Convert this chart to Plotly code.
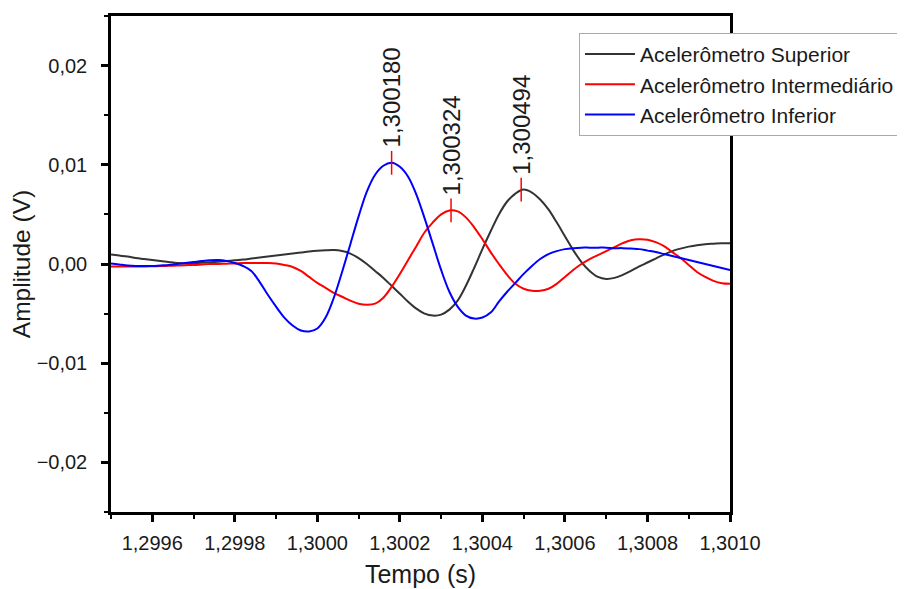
import plotly.graph_objects as go

# ---------------- data (sampled every 0.00002 s, values in units of 0.1 mV) ----------------
t_start = 1.2995
t_step = 0.00002
n_pts = 76
tempo = [round(t_start + k * t_step, 6) for k in range(n_pts)]

v_sup = [9.5, 8.5, 7.5, 6, 5, 4, 3, 2, 1, 0.5,
         0.8, 1.2, 1.7, 2.3, 3, 3.8, 4.5, 5.5, 6.5, 7.5,
         8.5, 9.5, 10.5, 11.5, 12.5, 13.3, 13.8, 14, 13, 10.5,
         6, 0, -7, -14, -22, -30, -38, -45, -50, -52,
         -51, -46, -37, -22, -4, 15, 33, 50, 63, 71,
         75, 72, 65, 55, 42, 28, 14, 2, -7, -13,
         -15, -14, -11, -7, -2.5, 1.5, 5.5, 9.5, 13, 15.5,
         17.5, 19, 20, 20.5, 21, 21]

v_int = [-2.5, -2.5, -2.5, -2.5, -2.5, -2.3, -2, -1.8, -1.5, -1.2,
         -1, -0.5, 0, 0, 0.3, 0.5, 1, 1, 1, 1,
         0.5, -1, -3, -7, -13, -19, -24, -29, -33, -37,
         -40, -41, -40, -34, -23, -10, 4, 18, 32, 42,
         50, 54, 53, 47, 37, 25, 12, 0, -11, -20,
         -25, -27, -27, -25, -20, -13, -6, 0, 5, 9,
         13, 17, 21, 24, 25, 24.5, 22, 18, 12, 6,
         -1, -8, -13, -17, -19.5, -20]

v_inf = [0.5, -0.5, -1.5, -2, -2, -2, -1.5, -1, 0, 1,
         2, 3, 3.8, 4, 3, 1, -2, -7, -18, -31,
         -43, -54, -62, -67, -68, -65, -54, -34, -8, 20,
         48, 73, 90, 99, 102, 98, 88, 70, 46, 20,
         -6, -28, -43, -52, -55, -54, -49, -38, -28, -19,
         -10, -2, 5, 10, 13, 15, 16, 16.5, 16.5, 16.5,
         16.5, 16, 16, 15.5, 15, 13.5, 12, 10, 8, 6,
         4, 2, 0, -2, -4, -6]

scale = 1e-4  # convert to V
series_values = [[v * scale for v in s] for s in (v_sup, v_int, v_inf)]
series_names = ["Acelerômetro Superior", "Acelerômetro Intermediário", "Acelerômetro Inferior"]
series_colors = ["#333333", "#FF0000", "#0000FF"]

peak_t = [1.300180, 1.300324, 1.300494]
peak_v = [0.0102, 0.0054, 0.0075]
peak_labels = ["1,300180", "1,300324", "1,300494"]

x_ticks = [1.2996, 1.2998, 1.3000, 1.3002, 1.3004, 1.3006, 1.3008, 1.3010]
y_ticks = [-0.02, -0.01, 0.0, 0.01, 0.02]

# ---------------- figure ----------------
FONT = "Liberation Sans, Arial, sans-serif"
TXT = "#1a1a1a"
fig = go.Figure()
for vv, name, col in zip(series_values, series_names, series_colors):
    fig.add_trace(go.Scatter(x=tempo, y=vv, mode="lines", name=name,
                             line=dict(color=col, width=2, shape="spline", smoothing=1.0)))

fig.add_trace(go.Scatter(x=peak_t, y=peak_v, mode="markers", showlegend=False,
                         marker=dict(symbol="line-ns", size=17,
                                     line=dict(color="#FF0000", width=1.5))))

for pt, pv, lab in zip(peak_t, peak_v, peak_labels):
    fig.add_annotation(x=pt, y=pv, text=lab, textangle=-90, showarrow=False,
                       xanchor="center", yanchor="bottom", yshift=13,
                       font=dict(family=FONT, size=24, color=TXT))

fig.update_layout(
    width=897, height=581,
    margin=dict(l=103, r=174, t=5, b=77),
    paper_bgcolor="white", plot_bgcolor="white",
    separators=",.",
    font=dict(family=FONT, size=20, color=TXT),
    showlegend=True,
    legend=dict(x=0.756, y=0.966, xanchor="left", yanchor="top",
                bgcolor="white", bordercolor="#AAAAAA", borderwidth=1,
                font=dict(family=FONT, size=21, color=TXT),
                itemwidth=50, tracegroupgap=0),
)

fig.update_xaxes(range=[1.2995, 1.3010], tickvals=x_ticks, tickformat=".4f",
                 showgrid=False, zeroline=False,
                 showline=True, linecolor="black", linewidth=2.5, mirror=True,
                 ticks="outside", ticklen=7, tickwidth=2.5, tickcolor="black",
                 ticklabelstandoff=4,
                 minor=dict(ticks="outside", ticklen=4, tickwidth=2, tickcolor="black",
                            dtick=0.0001, tick0=1.2995, showgrid=False),
                 tickfont=dict(family=FONT, size=20, color=TXT),
                 title=dict(text="Tempo (s)", font=dict(family=FONT, size=25, color=TXT),
                            standoff=13))

fig.update_yaxes(range=[-0.025, 0.025], tickvals=y_ticks, tickformat=".2f",
                 showgrid=False, zeroline=False,
                 showline=True, linecolor="black", linewidth=2.5, mirror=True,
                 ticks="outside", ticklen=7, tickwidth=2.5, tickcolor="black",
                 ticklabelstandoff=10,
                 minor=dict(ticks="outside", ticklen=4, tickwidth=2, tickcolor="black",
                            dtick=0.005, tick0=-0.025, showgrid=False),
                 tickfont=dict(family=FONT, size=20, color=TXT),
                 title=dict(text="Amplitude (V)", font=dict(family=FONT, size=24.5, color=TXT),
                            standoff=1))

fig.write_html("out.html")
